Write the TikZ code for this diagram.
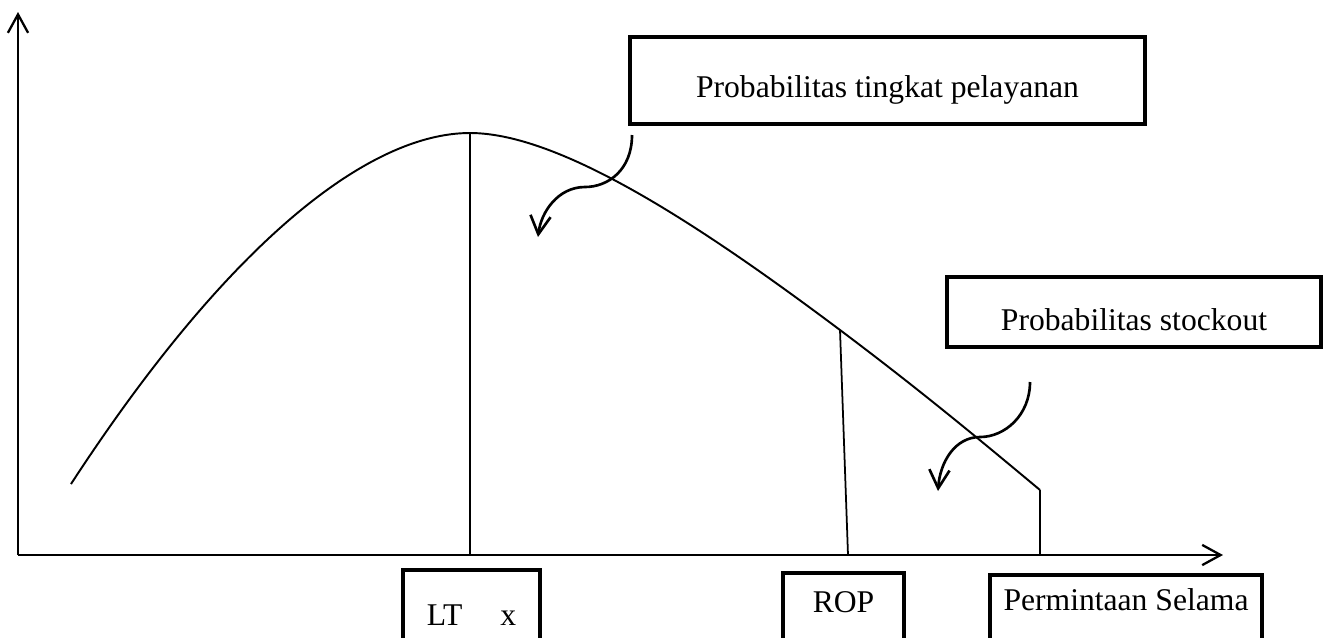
\documentclass[tikz,border=0pt]{standalone}
\usepackage{fontspec}
\setmainfont{Liberation Serif}
\usetikzlibrary{arrows.meta}

\tikzset{
  tag/.style={draw, line width=2.7pt, inner sep=0pt, font=\fontsize{18}{22}\selectfont}
}

\begin{document}
\begin{tikzpicture}[x=0.02cm, y=-0.02cm, >={Straight Barb[length=10.5pt,width=11.5pt]}]
\clip (0,0) rectangle (1325,637);

\coordinate (o) at (18,555);
\coordinate (ytop) at (18,12);
\coordinate (xend) at (1223,555);
\coordinate (c0) at (71,484);
\coordinate (peak) at (470,133);
\coordinate (r) at (840,330);
\coordinate (c1) at (1040,490);
\coordinate (peakb) at (470,555);
\coordinate (rb) at (848,555);
\coordinate (c1b) at (1040,555);

\node[tag, minimum width=10.3cm, minimum height=1.74cm, text height=23pt, text depth=4pt] (pel) at (887.5,80.5) {Probabilitas tingkat pelayanan};
\node[tag, minimum width=7.48cm, minimum height=1.4cm, text height=21.6pt, text depth=0pt] (so) at (1134,312) {Probabilitas stockout};
\node[tag, minimum width=2.74cm, minimum height=1.64cm, text height=16pt, text depth=0pt] (lt) at (471.5,611) {LT\hspace{1.2em}x};
\node[tag, minimum width=2.42cm, minimum height=1.58cm, text height=12pt, text depth=12pt] (rop) at (843.5,612.5) {ROP};
\node[tag, minimum width=5.44cm, minimum height=1.54cm, text height=12pt, text depth=16pt] (perm) at (1126,613.5) {Permintaan Selama};

\coordinate (a1) at (632,135);
\coordinate (t1) at (538,237);
\coordinate (a2) at (1030,382);
\coordinate (t2) at (938,491);

% axes
\draw[->, line width=1.3pt] (o) -- (ytop);
\draw[->, line width=1.3pt] (o) -- (xend);

% curve
\draw[line width=1.1pt] (c0) .. controls (230,240) and (370,133) .. (peak) .. controls (560,133) and (700,225) .. (r) .. controls (920,390) and (980,440) .. (c1);
\draw[line width=1pt] (peak) -- (peakb);
\draw[line width=1pt] (r) -- (rb);
\draw[line width=1pt] (c1) -- (c1b);

% pointers
\draw[->, line width=1.5pt] (a1) .. controls (632,170) and (608,187) .. (585,187) .. controls (558,187) and (541,212) .. (t1);
\draw[->, line width=1.5pt] (a2) .. controls (1030,415) and (1005,437) .. (980,437) .. controls (955,437) and (940,462) .. (t2);

\end{tikzpicture}
\end{document}
